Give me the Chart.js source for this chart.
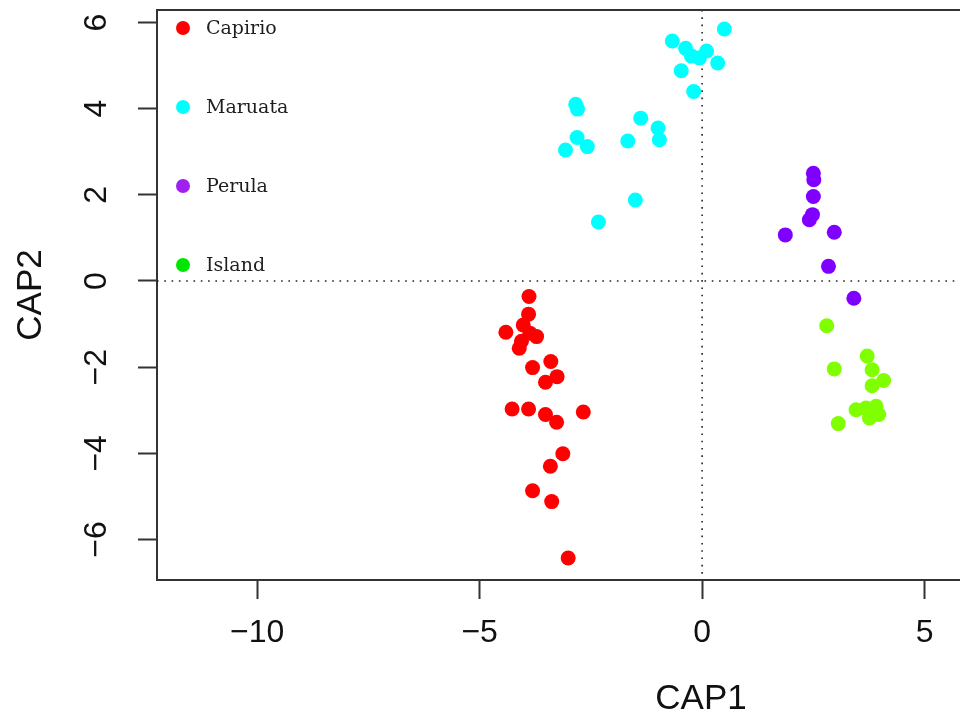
<!DOCTYPE html>
<html><head><meta charset="utf-8">
<script src="https://cdn.jsdelivr.net/npm/chart.js@4"></script>
<style>html,body{margin:0;padding:0;overflow:hidden;background:#fff;width:960px;height:727px}canvas{display:block}</style>
</head><body>
<canvas id="c" width="1260" height="727" style="width:1260px;height:727px"></canvas>
<script>
const groups = ['Capirio', 'Maruata', 'Perula', 'Island'];
const pointColors = ['#ff0000', '#00ffff', '#8000ff', '#80ff00'];
const legendColors = ['#ff0000', '#00ffff', '#a020f0', '#00e600'];

const capirioX = [-3.89,-3.90,-4.02,-4.41,-3.87,-3.72,-4.06,-4.11,-3.81,-3.40,-3.26,-3.52,-4.27,-3.90,-3.52,-3.27,-2.67,-3.13,-3.41,-3.81,-3.38,-3.01];
const capirioY = [-0.36,-0.77,-1.02,-1.19,-1.21,-1.29,-1.40,-1.56,-2.01,-1.87,-2.22,-2.35,-2.97,-2.97,-3.10,-3.28,-3.04,-4.01,-4.30,-4.87,-5.12,-6.43];

const maruataX = [-0.67,-0.37,-0.24,-0.06,0.10,0.50,0.35,-0.47,-0.19,-2.84,-2.80,-2.81,-2.58,-3.07,-1.38,-0.99,-0.96,-1.67,-1.50,-2.33];
const maruataY = [5.57,5.40,5.22,5.18,5.34,5.85,5.06,4.88,4.40,4.10,3.99,3.33,3.12,3.04,3.78,3.55,3.28,3.25,1.88,1.37];

const perulaX = [2.50,2.51,2.50,2.48,2.41,1.87,2.97,2.84,3.41];
const perulaY = [2.50,2.35,1.96,1.54,1.42,1.07,1.13,0.34,-0.40];

const islandX = [2.80,3.71,2.97,3.82,4.08,3.82,3.46,3.68,3.91,3.76,3.97,3.06];
const islandY = [-1.04,-1.74,-2.04,-2.06,-2.31,-2.43,-2.99,-2.95,-2.91,-3.18,-3.10,-3.31];

const xTicks = [-10, -5, 0, 5, 10];
const xTickLabels = ['\u221210', '\u22125', '0', '5', '10'];
const yTicks = [-6, -4, -2, 0, 2, 4, 6];
const yTickLabels = ['\u22126', '\u22124', '\u22122', '0', '2', '4', '6'];

const xTitle = 'CAP1';
const yTitle = 'CAP2';

const seriesX = [capirioX, maruataX, perulaX, islandX];
const seriesY = [capirioY, maruataY, perulaY, islandY];

const datasets = groups.map((g, i) => ({
  label: g,
  data: seriesX[i].map((x, j) => ({x: x, y: seriesY[i][j]})),
  pointRadius: 7.5,
  pointHoverRadius: 7.5,
  pointBorderWidth: 0,
  pointBackgroundColor: pointColors[i],
  backgroundColor: pointColors[i],
  borderColor: pointColors[i]
}));

const tickFont = {family: "'Liberation Sans', Arial, sans-serif", size: 32};
const titleFont = {family: "'Liberation Sans', Arial, sans-serif", size: 35};
const axisColor = '#333';

const framePlugin = {
  id: 'frame',
  beforeDatasetsDraw(chart) {
    const {ctx, chartArea: a, scales: {x, y}} = chart;
    ctx.save();
    ctx.strokeStyle = '#222';
    ctx.lineWidth = 1.6;
    ctx.setLineDash([1.6, 5.7]);
    const x0 = x.getPixelForValue(0), y0 = y.getPixelForValue(0);
    ctx.beginPath();
    ctx.moveTo(x0, a.top); ctx.lineTo(x0, a.bottom);
    ctx.moveTo(a.left, y0); ctx.lineTo(a.right, y0);
    ctx.stroke();
    ctx.restore();
  },
  afterDraw(chart) {
    const {ctx, chartArea: a} = chart;
    ctx.save();
    ctx.strokeStyle = axisColor;
    ctx.lineWidth = 2;
    ctx.beginPath();
    ctx.moveTo(a.left, a.top); ctx.lineTo(a.right, a.top); ctx.lineTo(a.right, a.bottom);
    ctx.stroke();
    ctx.restore();
  }
};

const legendPlugin = {
  id: 'insideLegend',
  afterDatasetsDraw(chart) {
    const {ctx, chartArea: a} = chart;
    ctx.save();
    ctx.font = "19px 'DejaVu Serif', serif";
    ctx.textAlign = 'left';
    ctx.textBaseline = 'middle';
    groups.forEach((g, i) => {
      const cy = a.top + 18 + i * 79;
      ctx.fillStyle = legendColors[i];
      ctx.beginPath();
      ctx.arc(a.left + 26, cy, 7, 0, Math.PI * 2);
      ctx.fill();
      ctx.fillStyle = '#1e1e1e';
      ctx.fillText(g, a.left + 49, cy + 1);
    });
    ctx.restore();
  }
};

new Chart(document.getElementById('c'), {
  type: 'scatter',
  data: {datasets},
  plugins: [framePlugin, legendPlugin],
  options: {
    responsive: false,
    animation: false,
    events: [],
    layout: {autoPadding: false, padding: {top: 10, right: 15, left: 0, bottom: 0}},
    plugins: {legend: {display: false}, tooltip: {enabled: false}},
    scales: {
      x: {
        type: 'linear', position: 'bottom', min: -12.25, max: 12.2,
        afterBuildTicks: s => { s.ticks = xTicks.map(v => ({value: v})); },
        afterFit: s => { s.height = 147; s.paddingLeft = 0; s.paddingRight = 0; },
        grid: {drawOnChartArea: false, drawTicks: true, tickLength: 19, tickWidth: 2, tickColor: axisColor},
        border: {display: true, color: axisColor, width: 2},
        ticks: {autoSkip: false, minRotation: 0, maxRotation: 0, padding: 15, color: '#111', font: tickFont,
          callback: (v, i) => xTickLabels[i]},
        title: {display: true, text: xTitle, color: '#111', font: titleFont, padding: {top: 0, bottom: 7}}
      },
      y: {
        type: 'linear', position: 'left', min: -6.94, max: 6.29,
        afterBuildTicks: s => { s.ticks = yTicks.map(v => ({value: v})); },
        afterFit: s => { s.width = 157; s.paddingTop = 0; s.paddingBottom = 0; },
        grid: {drawOnChartArea: false, drawTicks: true, tickLength: 19, tickWidth: 2, tickColor: axisColor},
        border: {display: true, color: axisColor, width: 2},
        ticks: {autoSkip: false, minRotation: 90, maxRotation: 90, crossAlign: 'center', padding: 23, color: '#111', font: tickFont,
          callback: (v, i) => yTickLabels[i]},
        title: {display: true, text: yTitle, color: '#111', font: titleFont, padding: {top: 10, bottom: 0}}
      }
    }
  }
});
</script>
</body></html>
